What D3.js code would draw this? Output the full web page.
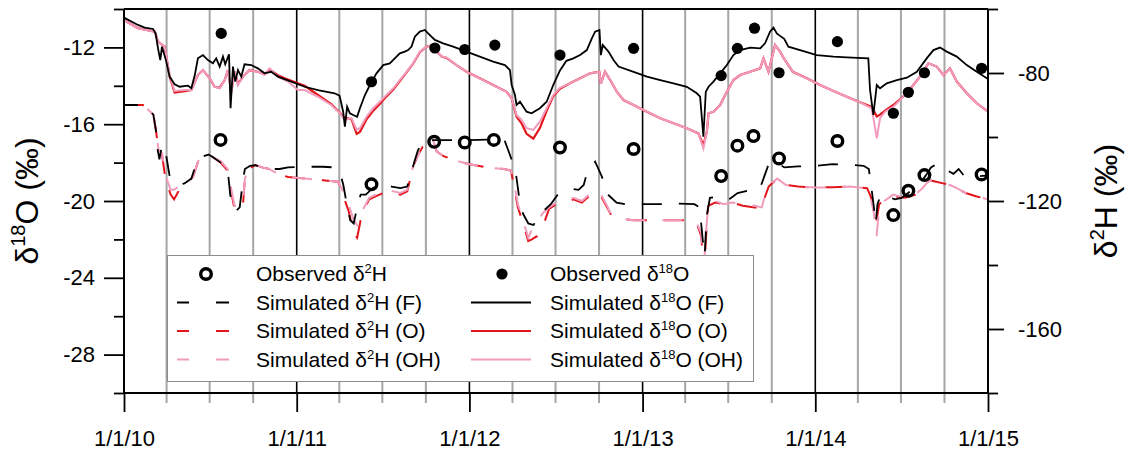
<!DOCTYPE html>
<html><head><meta charset="utf-8">
<script src="https://cdn.jsdelivr.net/npm/d3@7"></script>
<style>
body{margin:0;background:#fff}
svg{display:block}
text{font-family:Arial,"Liberation Sans",sans-serif;fill:#000}
</style>
</head><body>
<svg id="chart" width="1125" height="454"></svg>
<script>
// ---------------- DATA ----------------
const xTickYears = [2010, 2011, 2012, 2013, 2014, 2015];
const xTickLabels = ["1/1/10", "1/1/11", "1/1/12", "1/1/13", "1/1/14", "1/1/15"];
const leftMajorTicks = [-28, -24, -20, -16, -12];
const leftMinorTicks = [-30, -26, -22, -18, -14, -10];
const rightMajorTicks = [-160, -120, -80];
const rightMinorTicks = [-180, -140, -100, -60];

// observation dates (decimal years)
const obsDates18O = [2010.563, 2011.433, 2011.800, 2011.973, 2012.147, 2012.523, 2012.948, 2013.455, 2013.549, 2013.648, 2013.790, 2014.128, 2014.452, 2014.539, 2014.632, 2014.963];
const obs18O = [-11.27, -13.79, -12.03, -12.11, -11.88, -12.40, -12.05, -13.47, -12.05, -11.00, -13.32, -11.70, -15.43, -14.34, -13.32, -13.09];
const obsDates2H = [2010.559, 2011.433, 2011.796, 2011.973, 2012.141, 2012.523, 2012.948, 2013.455, 2013.549, 2013.642, 2013.790, 2014.128, 2014.452, 2014.539, 2014.632, 2014.963];
const obs2H = [-100.9, -114.8, -101.5, -101.7, -100.9, -103.3, -103.75, -112.2, -102.7, -99.7, -106.7, -101.25, -124.4, -116.8, -111.9, -111.7];

// simulated d18O (F) [decimal year, value]
const sim18O_F = [[2010.000,-10.45],[2010.081,-10.83],[2010.120,-10.97],[2010.168,-11.04],[2010.183,-11.27],[2010.197,-12.05],[2010.210,-12.66],[2010.220,-11.96],[2010.245,-12.74],[2010.264,-13.52],[2010.293,-13.92],[2010.322,-14.05],[2010.370,-13.99],[2010.390,-14.13],[2010.410,-13.44],[2010.428,-12.57],[2010.457,-12.40],[2010.486,-12.66],[2010.515,-12.83],[2010.534,-12.57],[2010.554,-13.00],[2010.573,-12.48],[2010.586,-12.88],[2010.608,-12.36],[2010.617,-15.17],[2010.631,-13.00],[2010.644,-13.78],[2010.660,-13.18],[2010.679,-13.52],[2010.698,-12.88],[2010.737,-12.92],[2010.775,-13.09],[2010.814,-13.35],[2010.852,-13.27],[2010.891,-13.52],[2010.968,-13.78],[2011.046,-14.05],[2011.123,-14.22],[2011.219,-14.39],[2011.248,-14.51],[2011.269,-15.35],[2011.279,-16.13],[2011.292,-15.09],[2011.308,-15.43],[2011.327,-15.52],[2011.350,-15.61],[2011.366,-15.17],[2011.395,-14.48],[2011.424,-13.96],[2011.462,-13.35],[2011.501,-12.92],[2011.539,-12.83],[2011.568,-12.57],[2011.597,-12.31],[2011.626,-12.22],[2011.645,-12.14],[2011.665,-11.96],[2011.684,-11.44],[2011.713,-11.18],[2011.742,-11.09],[2011.761,-11.27],[2011.800,-11.61],[2011.848,-11.79],[2011.906,-11.96],[2011.983,-12.22],[2012.060,-12.48],[2012.137,-12.74],[2012.205,-12.92],[2012.234,-13.18],[2012.244,-13.96],[2012.263,-14.48],[2012.272,-15.00],[2012.292,-14.83],[2012.330,-15.35],[2012.359,-15.43],[2012.407,-15.17],[2012.446,-14.83],[2012.484,-13.96],[2012.523,-13.20],[2012.560,-12.70],[2012.600,-12.57],[2012.639,-12.40],[2012.678,-12.14],[2012.707,-11.53],[2012.726,-11.18],[2012.751,-11.09],[2012.759,-12.40],[2012.770,-11.88],[2012.803,-12.22],[2012.832,-12.66],[2012.861,-13.00],[2012.948,-13.27],[2013.025,-13.52],[2013.102,-13.70],[2013.179,-13.87],[2013.256,-14.05],[2013.314,-14.39],[2013.333,-14.57],[2013.352,-16.65],[2013.366,-14.31],[2013.382,-14.05],[2013.410,-13.78],[2013.449,-13.35],[2013.488,-12.92],[2013.526,-12.40],[2013.565,-12.14],[2013.623,-12.01],[2013.681,-12.05],[2013.709,-11.79],[2013.738,-11.18],[2013.758,-10.97],[2013.777,-11.27],[2013.796,-11.40],[2013.820,-11.55],[2013.844,-11.96],[2013.912,-12.14],[2014.008,-12.40],[2014.105,-12.48],[2014.182,-12.52],[2014.307,-12.57],[2014.317,-14.22],[2014.336,-15.52],[2014.356,-13.96],[2014.375,-14.13],[2014.414,-13.87],[2014.472,-13.70],[2014.530,-13.58],[2014.588,-13.27],[2014.645,-12.57],[2014.684,-12.14],[2014.722,-12.01],[2014.761,-12.22],[2014.819,-12.48],[2014.877,-12.92],[2014.935,-13.27],[2015.000,-13.65]];

// simulated d18O (OH)
const sim18O_OH = [[2010.000,-10.57],[2010.081,-11.00],[2010.178,-11.18],[2010.197,-11.70],[2010.235,-11.96],[2010.264,-13.44],[2010.293,-14.27],[2010.351,-14.22],[2010.390,-14.22],[2010.428,-13.44],[2010.457,-13.18],[2010.496,-13.61],[2010.525,-14.05],[2010.554,-14.13],[2010.583,-13.70],[2010.602,-13.18],[2010.621,-14.39],[2010.641,-13.27],[2010.660,-13.96],[2010.689,-13.52],[2010.727,-13.18],[2010.775,-13.27],[2010.814,-13.44],[2010.843,-13.09],[2010.891,-13.52],[2010.949,-13.78],[2011.007,-14.22],[2011.046,-14.22],[2011.123,-14.57],[2011.200,-15.00],[2011.250,-15.43],[2011.277,-15.78],[2011.318,-15.69],[2011.347,-16.30],[2011.366,-16.21],[2011.404,-15.61],[2011.443,-15.17],[2011.481,-14.83],[2011.520,-14.48],[2011.559,-14.13],[2011.597,-13.70],[2011.636,-13.27],[2011.674,-12.83],[2011.713,-12.22],[2011.752,-11.96],[2011.781,-11.88],[2011.810,-12.22],[2011.839,-12.48],[2011.868,-12.53],[2011.925,-12.92],[2011.983,-13.27],[2012.060,-13.61],[2012.137,-13.96],[2012.215,-14.31],[2012.244,-14.65],[2012.272,-15.52],[2012.301,-15.78],[2012.330,-16.21],[2012.369,-16.30],[2012.407,-15.87],[2012.446,-15.17],[2012.484,-14.48],[2012.523,-14.10],[2012.581,-13.87],[2012.639,-13.61],[2012.697,-13.35],[2012.750,-13.27],[2012.759,-13.87],[2012.783,-13.27],[2012.813,-13.70],[2012.851,-14.31],[2012.890,-14.74],[2012.948,-15.00],[2013.025,-15.35],[2013.102,-15.69],[2013.179,-15.95],[2013.256,-16.21],[2013.323,-16.48],[2013.352,-17.26],[2013.372,-16.39],[2013.382,-15.43],[2013.410,-15.35],[2013.449,-15.00],[2013.488,-14.31],[2013.526,-13.70],[2013.565,-13.44],[2013.623,-13.27],[2013.681,-13.09],[2013.700,-12.57],[2013.729,-13.27],[2013.767,-11.88],[2013.796,-12.22],[2013.820,-12.60],[2013.870,-13.27],[2013.951,-13.61],[2014.028,-13.96],[2014.105,-14.27],[2014.182,-14.57],[2014.259,-14.86],[2014.327,-15.17],[2014.356,-16.74],[2014.375,-15.69],[2014.404,-15.35],[2014.452,-15.09],[2014.491,-14.74],[2014.530,-14.39],[2014.568,-13.96],[2014.606,-13.52],[2014.655,-12.83],[2014.703,-13.00],[2014.742,-13.44],[2014.780,-13.09],[2014.819,-13.78],[2014.877,-14.39],[2014.935,-14.91],[2015.000,-15.35]];

// simulated d18O (O)
const sim18O_O = [[2010.000,-10.57],[2010.081,-11.00],[2010.178,-11.18],[2010.197,-11.70],[2010.235,-11.96],[2010.264,-13.50],[2010.293,-14.35],[2010.351,-14.28],[2010.390,-14.22],[2010.428,-13.44],[2010.457,-13.18],[2010.496,-13.61],[2010.525,-14.05],[2010.554,-14.10],[2010.583,-13.70],[2010.602,-13.18],[2010.621,-14.30],[2010.641,-13.27],[2010.660,-13.90],[2010.689,-13.52],[2010.727,-13.18],[2010.775,-13.27],[2010.814,-13.40],[2010.843,-13.15],[2010.891,-13.45],[2010.930,-13.61],[2011.007,-13.87],[2011.046,-14.00],[2011.123,-14.48],[2011.200,-14.95],[2011.277,-15.65],[2011.318,-15.75],[2011.347,-16.50],[2011.366,-16.40],[2011.404,-15.75],[2011.443,-15.30],[2011.481,-14.95],[2011.520,-14.55],[2011.559,-14.20],[2011.597,-13.75],[2011.636,-13.30],[2011.674,-12.85],[2011.713,-12.25],[2011.752,-11.96],[2011.781,-11.90],[2011.810,-12.22],[2011.839,-12.48],[2011.868,-12.55],[2011.925,-12.92],[2011.983,-13.27],[2012.060,-13.61],[2012.137,-13.96],[2012.215,-14.31],[2012.244,-14.65],[2012.272,-15.60],[2012.301,-15.95],[2012.330,-16.50],[2012.369,-16.75],[2012.407,-16.20],[2012.446,-15.30],[2012.484,-14.55],[2012.523,-14.15],[2012.581,-13.87],[2012.639,-13.61],[2012.697,-13.35],[2012.750,-13.27],[2012.759,-13.87],[2012.783,-13.27],[2012.813,-13.70],[2012.851,-14.31],[2012.890,-14.74],[2012.948,-15.00],[2013.025,-15.35],[2013.102,-15.69],[2013.179,-15.95],[2013.256,-16.21],[2013.323,-16.48],[2013.352,-17.10],[2013.372,-16.39],[2013.382,-15.43],[2013.410,-15.35],[2013.449,-15.00],[2013.488,-14.31],[2013.526,-13.70],[2013.565,-13.44],[2013.623,-13.27],[2013.681,-13.09],[2013.700,-12.57],[2013.729,-13.27],[2013.767,-11.88],[2013.796,-12.22],[2013.820,-12.60],[2013.870,-13.27],[2013.951,-13.61],[2014.028,-13.96],[2014.105,-14.27],[2014.182,-14.57],[2014.259,-14.86],[2014.327,-15.10],[2014.356,-15.60],[2014.375,-15.50],[2014.404,-15.30],[2014.452,-15.00],[2014.491,-14.70],[2014.530,-14.39],[2014.568,-13.96],[2014.606,-13.52],[2014.655,-12.83],[2014.703,-13.00],[2014.742,-13.44],[2014.780,-13.09],[2014.819,-13.78],[2014.877,-14.39],[2014.935,-14.91],[2015.000,-15.35]];

// simulated d2H (F)
const sim2H_F = [[2010.000,-90.0],[2010.110,-90.0],[2010.170,-93.0],[2010.185,-98.0],[2010.195,-104.0],[2010.205,-107.0],[2010.215,-104.0],[2010.228,-102.5],[2010.245,-106.0],[2010.265,-112.5],[2010.290,-114.0],[2010.320,-115.0],[2010.350,-114.5],[2010.390,-113.0],[2010.420,-108.0],[2010.460,-106.0],[2010.490,-105.5],[2010.520,-106.5],[2010.560,-108.0],[2010.600,-110.0],[2010.615,-118.0],[2010.630,-122.5],[2010.650,-123.0],[2010.670,-122.0],[2010.690,-113.0],[2010.700,-110.0],[2010.730,-109.0],[2010.760,-108.8],[2010.800,-109.5],[2010.850,-110.0],[2010.900,-110.0],[2010.950,-109.5],[2011.050,-109.3],[2011.150,-109.3],[2011.220,-109.5],[2011.250,-111.0],[2011.270,-115.0],[2011.290,-121.0],[2011.310,-126.0],[2011.330,-127.0],[2011.350,-122.0],[2011.370,-118.0],[2011.400,-118.0],[2011.440,-116.0],[2011.500,-114.5],[2011.550,-115.5],[2011.600,-116.0],[2011.640,-115.5],[2011.660,-112.0],[2011.680,-108.0],[2011.700,-104.5],[2011.720,-102.0],[2011.750,-101.0],[2011.800,-101.0],[2011.900,-101.0],[2012.000,-101.0],[2012.100,-100.8],[2012.200,-100.6],[2012.230,-105.0],[2012.250,-108.0],[2012.270,-112.0],[2012.290,-120.0],[2012.310,-124.0],[2012.340,-127.0],[2012.370,-127.5],[2012.400,-125.0],[2012.430,-123.0],[2012.470,-121.0],[2012.510,-118.0],[2012.550,-117.0],[2012.600,-116.3],[2012.630,-116.5],[2012.660,-115.0],[2012.680,-111.0],[2012.726,-107.7],[2012.765,-112.4],[2012.800,-118.0],[2012.850,-120.5],[2012.900,-121.0],[2013.000,-121.0],[2013.100,-121.0],[2013.200,-120.8],[2013.300,-121.0],[2013.330,-122.0],[2013.350,-133.0],[2013.360,-137.0],[2013.370,-125.0],[2013.390,-119.0],[2013.450,-118.5],[2013.500,-119.5],[2013.550,-117.5],[2013.620,-116.6],[2013.680,-116.0],[2013.700,-113.0],[2013.730,-108.5],[2013.760,-107.5],[2013.780,-108.0],[2013.820,-109.5],[2013.900,-109.2],[2014.000,-109.0],[2014.100,-108.5],[2014.200,-108.7],[2014.280,-109.0],[2014.310,-110.0],[2014.320,-114.0],[2014.335,-120.0],[2014.350,-127.0],[2014.360,-121.0],[2014.380,-118.0],[2014.420,-118.5],[2014.460,-119.5],[2014.500,-119.0],[2014.550,-117.0],[2014.600,-115.0],[2014.640,-112.0],[2014.670,-109.5],[2014.700,-108.5],[2014.720,-108.5],[2014.750,-110.0],[2014.800,-111.5],[2014.830,-110.0],[2014.860,-112.0],[2014.900,-112.5],[2015.000,-112.0]];

// simulated d2H (OH)
const sim2H_OH = [[2010.000,-90.0],[2010.110,-90.0],[2010.170,-93.0],[2010.185,-98.0],[2010.200,-104.0],[2010.220,-105.0],[2010.240,-112.0],[2010.270,-116.5],[2010.290,-116.5],[2010.330,-115.0],[2010.380,-113.5],[2010.400,-112.5],[2010.430,-107.5],[2010.470,-106.0],[2010.490,-105.5],[2010.520,-106.5],[2010.560,-107.5],[2010.600,-110.0],[2010.620,-116.0],[2010.640,-121.5],[2010.670,-122.0],[2010.690,-120.0],[2010.700,-113.0],[2010.720,-110.0],[2010.760,-108.8],[2010.800,-109.5],[2010.840,-110.0],[2010.890,-111.5],[2010.950,-112.5],[2011.050,-113.0],[2011.150,-113.5],[2011.240,-114.0],[2011.260,-116.0],[2011.280,-119.0],[2011.300,-121.0],[2011.330,-126.0],[2011.350,-127.5],[2011.370,-124.0],[2011.400,-121.0],[2011.420,-119.0],[2011.460,-118.0],[2011.520,-116.5],[2011.560,-117.0],[2011.600,-117.5],[2011.640,-116.5],[2011.660,-112.0],[2011.680,-108.0],[2011.700,-106.0],[2011.730,-103.0],[2011.760,-101.5],[2011.790,-101.0],[2011.810,-104.5],[2011.850,-106.0],[2011.930,-107.5],[2012.000,-108.5],[2012.100,-109.5],[2012.200,-110.0],[2012.240,-110.5],[2012.260,-115.0],[2012.280,-121.0],[2012.310,-126.0],[2012.340,-131.5],[2012.360,-129.0],[2012.390,-127.0],[2012.420,-124.0],[2012.460,-122.0],[2012.500,-120.5],[2012.550,-120.0],[2012.600,-119.0],[2012.650,-120.0],[2012.700,-117.5],[2012.720,-116.5],[2012.760,-118.0],[2012.790,-121.0],[2012.820,-124.5],[2012.860,-125.5],[2012.950,-126.0],[2013.050,-126.0],[2013.150,-126.0],[2013.250,-126.0],[2013.310,-126.5],[2013.340,-130.0],[2013.355,-140.0],[2013.370,-128.0],[2013.380,-121.0],[2013.420,-120.0],[2013.470,-121.0],[2013.520,-120.5],[2013.580,-121.0],[2013.650,-121.5],[2013.690,-122.0],[2013.710,-118.0],[2013.730,-115.0],[2013.780,-113.0],[2013.830,-115.0],[2013.900,-115.5],[2014.000,-115.8],[2014.100,-115.7],[2014.200,-115.5],[2014.300,-116.0],[2014.320,-119.0],[2014.340,-124.0],[2014.355,-131.0],[2014.370,-122.0],[2014.400,-120.0],[2014.450,-118.0],[2014.520,-119.0],[2014.580,-118.0],[2014.620,-116.0],[2014.660,-113.5],[2014.700,-114.0],[2014.740,-114.5],[2014.780,-115.0],[2014.820,-116.0],[2014.870,-117.5],[2014.930,-118.5],[2015.000,-119.5]];

// simulated d2H (O)
const sim2H_O = [[2010.000,-90.0],[2010.110,-90.0],[2010.170,-93.0],[2010.185,-98.0],[2010.200,-104.0],[2010.220,-105.5],[2010.240,-113.0],[2010.270,-118.0],[2010.290,-119.5],[2010.310,-117.5],[2010.330,-115.5],[2010.380,-113.5],[2010.400,-112.5],[2010.430,-107.5],[2010.470,-106.0],[2010.490,-105.5],[2010.520,-106.5],[2010.560,-108.0],[2010.600,-110.5],[2010.620,-117.0],[2010.640,-122.5],[2010.670,-123.0],[2010.690,-120.5],[2010.700,-113.0],[2010.720,-110.0],[2010.760,-108.8],[2010.800,-109.5],[2010.840,-110.0],[2010.890,-111.5],[2010.950,-112.5],[2011.050,-113.0],[2011.150,-113.5],[2011.240,-114.0],[2011.260,-116.5],[2011.280,-120.0],[2011.300,-123.0],[2011.330,-130.0],[2011.350,-131.5],[2011.370,-126.0],[2011.400,-121.5],[2011.420,-119.5],[2011.460,-118.5],[2011.520,-117.0],[2011.560,-117.5],[2011.600,-118.0],[2011.640,-117.0],[2011.660,-112.5],[2011.680,-108.5],[2011.700,-106.0],[2011.730,-103.0],[2011.760,-101.5],[2011.790,-101.0],[2011.810,-104.5],[2011.850,-106.0],[2011.930,-107.5],[2012.000,-108.5],[2012.100,-109.5],[2012.200,-110.0],[2012.240,-110.5],[2012.260,-116.0],[2012.280,-122.0],[2012.310,-127.0],[2012.340,-132.5],[2012.360,-132.0],[2012.390,-131.0],[2012.430,-127.0],[2012.460,-122.5],[2012.500,-121.0],[2012.550,-120.5],[2012.600,-119.5],[2012.650,-120.5],[2012.700,-118.0],[2012.720,-117.0],[2012.760,-118.5],[2012.790,-121.5],[2012.820,-124.5],[2012.860,-125.5],[2012.950,-126.0],[2013.050,-126.0],[2013.150,-126.0],[2013.250,-126.0],[2013.310,-126.5],[2013.340,-131.0],[2013.355,-143.0],[2013.370,-129.0],[2013.380,-121.5],[2013.420,-120.5],[2013.470,-121.0],[2013.520,-120.5],[2013.580,-121.5],[2013.650,-122.0],[2013.690,-122.5],[2013.710,-118.5],[2013.730,-115.5],[2013.780,-113.0],[2013.830,-115.0],[2013.900,-115.5],[2014.000,-115.8],[2014.100,-115.7],[2014.200,-115.5],[2014.300,-116.0],[2014.320,-118.5],[2014.340,-122.0],[2014.355,-126.0],[2014.370,-121.0],[2014.400,-119.5],[2014.450,-118.5],[2014.520,-119.0],[2014.580,-118.0],[2014.620,-116.0],[2014.660,-113.5],[2014.700,-114.0],[2014.740,-114.5],[2014.780,-115.0],[2014.820,-116.0],[2014.870,-117.5],[2014.930,-118.5],[2015.000,-119.5]];

// ---------------- CHART ----------------
const svg = d3.select("#chart");
const pLeft = 124, pRight = 988, pTop = 9, pBottom = 393;
const BLACK = "#000", RED = "#e3151b", PINK = "#f19bbd", GRID = "#a6a6a6";

const toDate = d => {
  const y = Math.floor(d);
  const s = Date.UTC(y, 0, 1), e = Date.UTC(y + 1, 0, 1);
  return new Date(s + (d - y) * (e - s));
};

const x = d3.scaleUtc().domain([toDate(2010), toDate(2015)]).range([pLeft, pRight]);
const yL = d3.scaleLinear().domain([-30, -10]).range([pBottom, pTop]);
const yR = d3.scaleLinear().domain([-180, -60]).range([pBottom, pTop]);

// quarter grid lines (gray)
const quarters = d3.utcMonth.every(3).range(toDate(2010), toDate(2015)).filter(d => d.getUTCMonth() !== 0);
svg.append("g").selectAll("line").data(quarters).join("line")
  .attr("x1", d => x(d)).attr("x2", d => x(d))
  .attr("y1", pTop).attr("y2", pBottom + 10)
  .attr("stroke", GRID).attr("stroke-width", 2);

// year grid lines (black)
svg.append("g").selectAll("line").data(xTickYears.slice(1, -1)).join("line")
  .attr("x1", d => x(toDate(d))).attr("x2", d => x(toDate(d)))
  .attr("y1", pTop).attr("y2", pBottom)
  .attr("stroke", BLACK).attr("stroke-width", 1.6);

// top border
svg.append("line").attr("x1", pLeft).attr("x2", pRight).attr("y1", pTop).attr("y2", pTop)
  .attr("stroke", BLACK).attr("stroke-width", 1.8);

// lines
const lineL = d3.line().x(d => x(toDate(d[0]))).y(d => yL(d[1]));
const lineR = d3.line().x(d => x(toDate(d[0]))).y(d => yR(d[1]));
const dash = "20,17";

svg.append("path").datum(sim2H_O).attr("d", lineR).attr("fill", "none")
  .attr("stroke", RED).attr("stroke-width", 2).attr("stroke-dasharray", dash).attr("stroke-dashoffset", 0);
svg.append("path").datum(sim2H_OH).attr("d", lineR).attr("fill", "none")
  .attr("stroke", PINK).attr("stroke-width", 2).attr("stroke-dasharray", dash).attr("stroke-dashoffset", 12);
svg.append("path").datum(sim2H_F).attr("d", lineR).attr("fill", "none")
  .attr("stroke", BLACK).attr("stroke-width", 1.8).attr("stroke-dasharray", dash).attr("stroke-dashoffset", 6);

svg.append("path").datum(sim18O_O).attr("d", lineL).attr("fill", "none")
  .attr("stroke", RED).attr("stroke-width", 2.2);
svg.append("path").datum(sim18O_OH).attr("d", lineL).attr("fill", "none")
  .attr("stroke", PINK).attr("stroke-width", 2);
svg.append("path").datum(sim18O_F).attr("d", lineL).attr("fill", "none")
  .attr("stroke", BLACK).attr("stroke-width", 1.8);

// observed points
svg.append("g").selectAll("circle").data(obs2H).join("circle")
  .attr("cx", (d, i) => x(toDate(obsDates2H[i]))).attr("cy", d => yR(d))
  .attr("r", 5.3).attr("fill", "none").attr("stroke", BLACK).attr("stroke-width", 3.4);
svg.append("g").selectAll("circle").data(obs18O).join("circle")
  .attr("cx", (d, i) => x(toDate(obsDates18O[i]))).attr("cy", d => yL(d))
  .attr("r", 5.6).attr("fill", BLACK);

// axes
function styleAxis(g) {
  g.select(".domain").remove();
  g.selectAll(".tick line").attr("stroke", BLACK).attr("stroke-width", 1.8);
  g.selectAll("text").attr("font-size", 22).attr("font-family", "Arial, 'Liberation Sans', sans-serif");
}
svg.append("g").attr("transform", `translate(0,${pBottom})`)
  .call(d3.axisBottom(x).tickValues(xTickYears.map(toDate)).tickSize(19).tickPadding(18)
    .tickFormat((d, i) => xTickLabels[i]))
  .call(styleAxis);
svg.append("line").attr("x1", pLeft).attr("x2", pRight).attr("y1", pBottom).attr("y2", pBottom)
  .attr("stroke", BLACK).attr("stroke-width", 2);

svg.append("g").attr("transform", `translate(${pLeft},0)`)
  .call(d3.axisLeft(yL).tickValues(leftMajorTicks).tickSize(20).tickPadding(9).tickFormat(d3.format("d")))
  .call(styleAxis);
svg.append("g").attr("transform", `translate(${pLeft},0)`)
  .call(d3.axisLeft(yL).tickValues(leftMinorTicks).tickSize(10).tickFormat(""))
  .call(styleAxis);
svg.append("line").attr("x1", pLeft).attr("x2", pLeft).attr("y1", pTop).attr("y2", pBottom)
  .attr("stroke", BLACK).attr("stroke-width", 2);

svg.append("g").attr("transform", `translate(${pRight},0)`)
  .call(d3.axisRight(yR).tickValues(rightMajorTicks).tickSize(16).tickPadding(14).tickFormat(d3.format("d")))
  .call(styleAxis);
svg.append("g").attr("transform", `translate(${pRight},0)`)
  .call(d3.axisRight(yR).tickValues(rightMinorTicks).tickSize(10).tickFormat(""))
  .call(styleAxis);
svg.append("line").attr("x1", pRight).attr("x2", pRight).attr("y1", pTop).attr("y2", pBottom)
  .attr("stroke", BLACK).attr("stroke-width", 2);

svg.selectAll(".tick text").text(function() { return this.textContent.replace("\u2212", "-"); });

// axis titles
function titleText(g, parts) {
  const t = g.append("text").attr("text-anchor", "middle").attr("font-size", 32);
  parts.forEach(p => {
    const ts = t.append("tspan").text(p.t);
    if (p.sup) ts.attr("font-size", 20).attr("dy", -13);
    if (p.down) ts.attr("dy", 13);
  });
  return t;
}
titleText(svg.append("g").attr("transform", "translate(38,201) rotate(-90)"),
  [{t: "δ"}, {t: "18", sup: true}, {t: "O (‰)", down: true}]);
titleText(svg.append("g").attr("transform", "translate(1117,201) rotate(-90)"),
  [{t: "δ"}, {t: "2", sup: true}, {t: "H (‰)", down: true}]);

// legend
const lg = svg.append("g");
lg.append("rect").attr("x", 167.5).attr("y", 255.5).attr("width", 586).attr("height", 126)
  .attr("fill", "#fff").attr("stroke", "#8c8c8c").attr("stroke-width", 1);
const rowY = [274, 302.5, 331, 359.5];
const legendItems = [
  {col: 0, row: 0, type: "open", label: ["Observed δ", "2", "H"]},
  {col: 1, row: 0, type: "dot", label: ["Observed δ", "18", "O"]},
  {col: 0, row: 1, type: "dash", color: BLACK, label: ["Simulated δ", "2", "H (F)"]},
  {col: 1, row: 1, type: "solid", color: BLACK, label: ["Simulated δ", "18", "O (F)"]},
  {col: 0, row: 2, type: "dash", color: RED, label: ["Simulated δ", "2", "H (O)"]},
  {col: 1, row: 2, type: "solid", color: RED, label: ["Simulated δ", "18", "O (O)"]},
  {col: 0, row: 3, type: "dash", color: PINK, label: ["Simulated δ", "2", "H (OH)"]},
  {col: 1, row: 3, type: "solid", color: PINK, label: ["Simulated δ", "18", "O (OH)"]}
];
const colSym = [206, 502], colText = [256, 550];
legendItems.forEach(it => {
  const cy = rowY[it.row], cx = colSym[it.col];
  if (it.type === "open") {
    lg.append("circle").attr("cx", cx).attr("cy", cy).attr("r", 5.3).attr("fill", "none")
      .attr("stroke", BLACK).attr("stroke-width", 3.4);
  } else if (it.type === "dot") {
    lg.append("circle").attr("cx", cx).attr("cy", cy).attr("r", 5.6).attr("fill", BLACK);
  } else if (it.type === "dash") {
    [[177, 189], [216, 229]].forEach(s => lg.append("line").attr("x1", s[0]).attr("x2", s[1])
      .attr("y1", cy).attr("y2", cy).attr("stroke", it.color).attr("stroke-width", 2));
  } else {
    lg.append("line").attr("x1", 471).attr("x2", 531).attr("y1", cy).attr("y2", cy)
      .attr("stroke", it.color).attr("stroke-width", 2);
  }
  const t = lg.append("text").attr("x", colText[it.col]).attr("y", cy + 7).attr("font-size", 21);
  t.append("tspan").text(it.label[0]);
  t.append("tspan").text(it.label[1]).attr("font-size", 13).attr("dy", -8);
  t.append("tspan").text(it.label[2]).attr("dy", 8);
});
</script>
</body></html>
